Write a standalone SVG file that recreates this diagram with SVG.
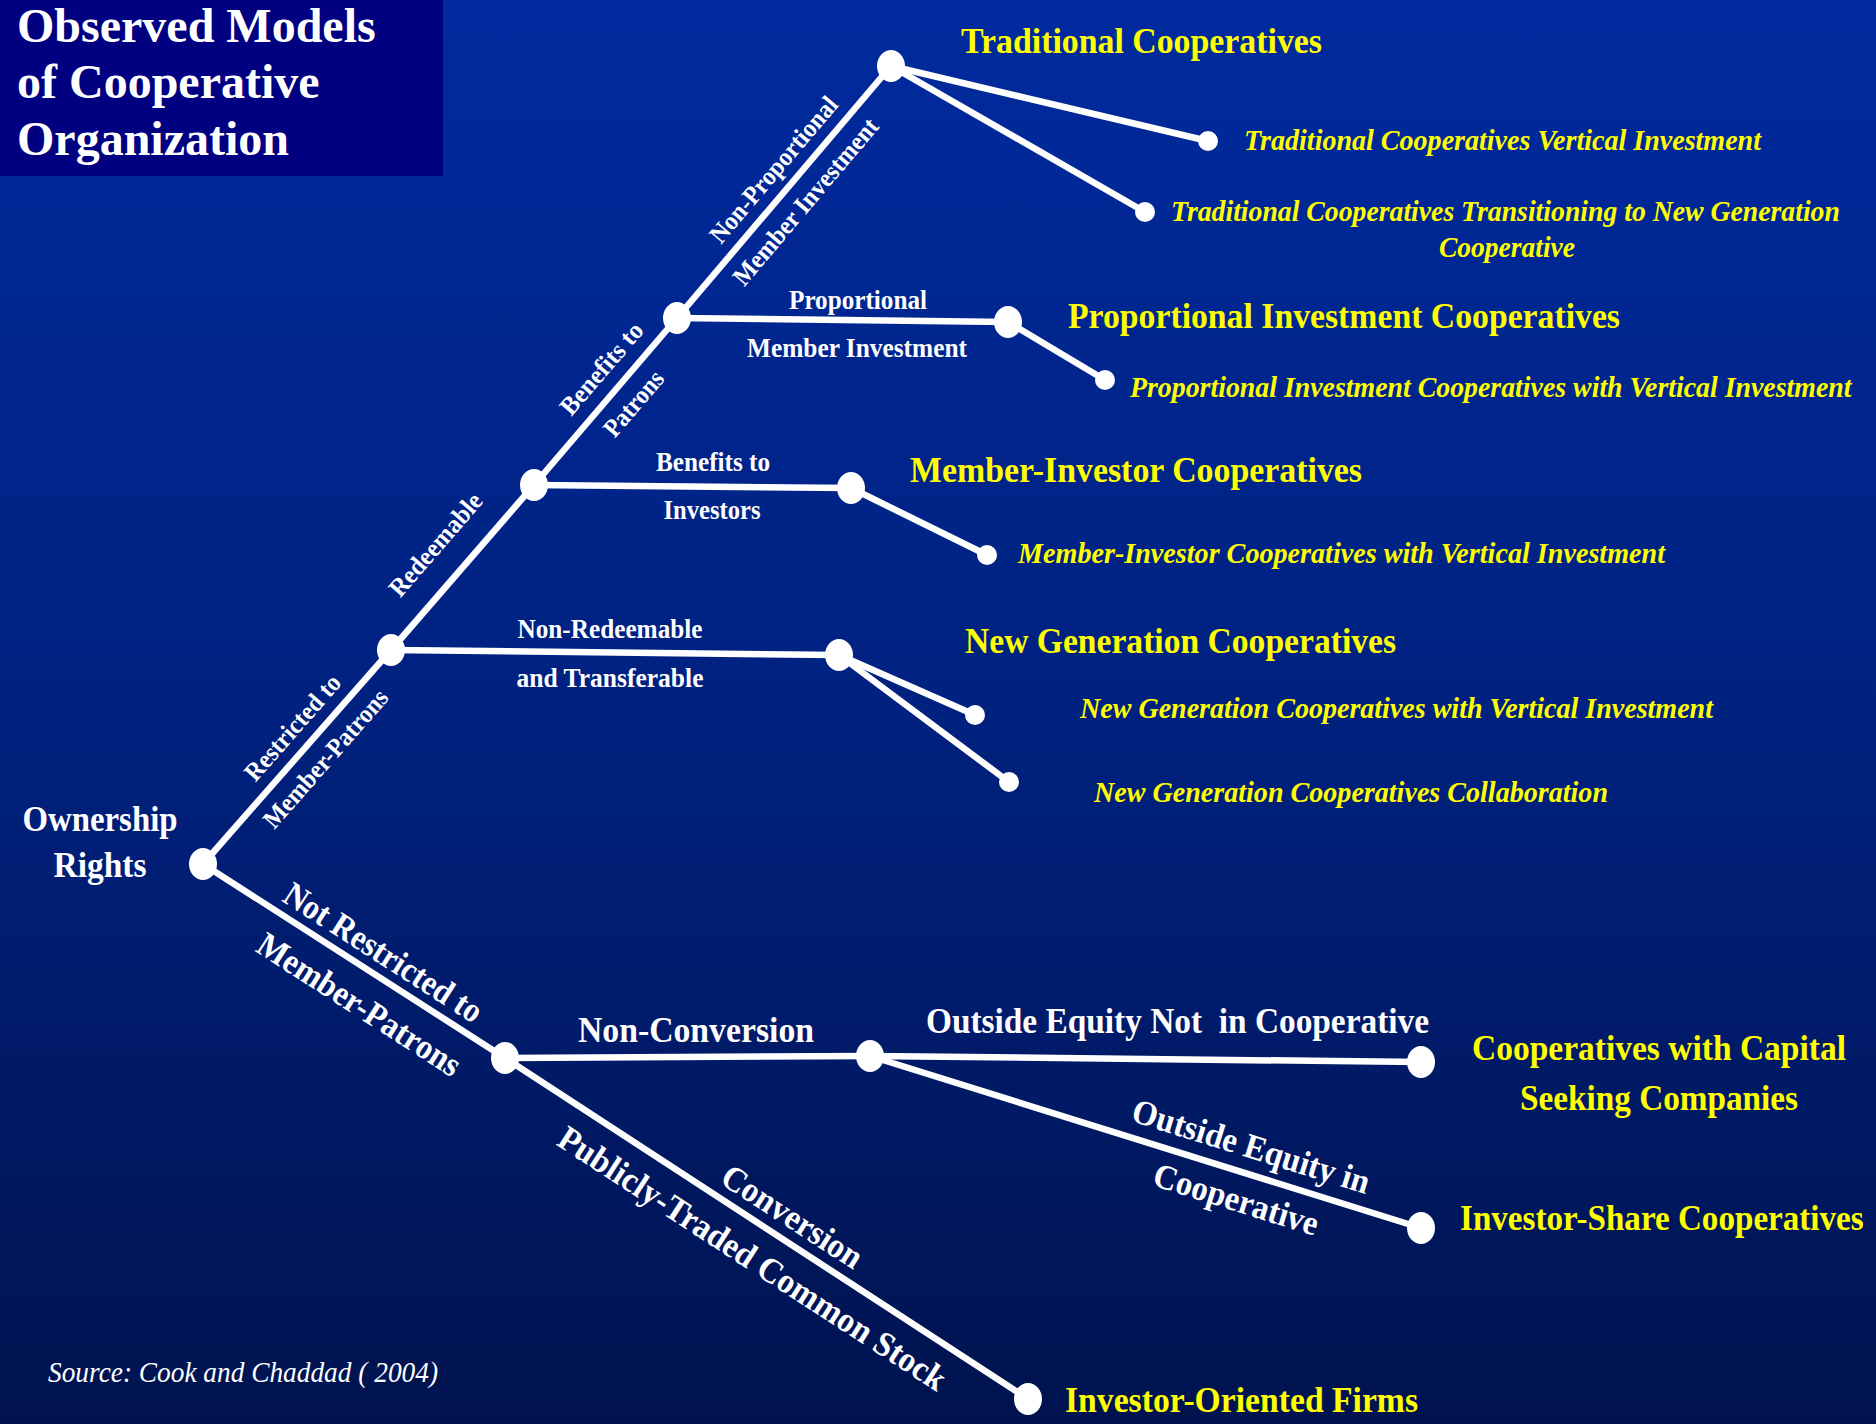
<svg xmlns="http://www.w3.org/2000/svg" width="1876" height="1424" viewBox="0 0 1876 1424">
  <defs>
    <linearGradient id="bg" x1="0" y1="0" x2="0" y2="1">
      <stop offset="0" stop-color="#002a9e"/>
      <stop offset="0.5" stop-color="#00217f"/>
      <stop offset="1" stop-color="#00134f"/>
    </linearGradient>
    <style>
      .ln { stroke:#ffffff; stroke-width:6.5; stroke-linecap:round; fill:none; }
      .nb { fill:#ffffff; }
      .t { font-family:"Liberation Serif","Times New Roman",serif; font-weight:bold; }
      .y { fill:#ffff00; font-size:36px; }
      .yi { fill:#ffff00; font-size:30px; font-style:italic; }
      .w { fill:#ffffff; }
      .s27 { font-size:27px; }
      .s26 { font-size:26px; }
      .s35 { font-size:35px; }
      .title { fill:#ffffff; font-size:48px; }
      .src { fill:#ffffff; font-size:30px; font-style:italic; font-weight:normal; }
    </style>
  </defs>

  <rect x="0" y="0" width="1876" height="1424" fill="url(#bg)"/>

  <g id="title">
    <rect x="0" y="0" width="443" height="176" fill="#000080"/>
    <text class="t title" x="17" y="42">Observed Models</text>
    <text class="t title" x="17" y="98">of Cooperative</text>
    <text class="t title" x="17" y="155">Organization</text>
  </g>

  <g id="connectors">
    <line class="ln" x1="203" y1="864" x2="391" y2="650"/>
    <line class="ln" x1="391" y1="650" x2="534" y2="485"/>
    <line class="ln" x1="534" y1="485" x2="677" y2="318"/>
    <line class="ln" x1="677" y1="318" x2="891" y2="66"/>
    <line class="ln" x1="891" y1="66" x2="1208" y2="141"/>
    <line class="ln" x1="891" y1="66" x2="1145" y2="212"/>
    <line class="ln" x1="677" y1="318" x2="1008" y2="322"/>
    <line class="ln" x1="1008" y1="322" x2="1105" y2="380"/>
    <line class="ln" x1="534" y1="485" x2="851" y2="488"/>
    <line class="ln" x1="851" y1="488" x2="987" y2="555"/>
    <line class="ln" x1="391" y1="650" x2="839" y2="655"/>
    <line class="ln" x1="839" y1="655" x2="975" y2="715"/>
    <line class="ln" x1="839" y1="655" x2="1009" y2="782"/>
    <line class="ln" x1="203" y1="864" x2="505" y2="1058"/>
    <line class="ln" x1="505" y1="1058" x2="870" y2="1056"/>
    <line class="ln" x1="870" y1="1056" x2="1421" y2="1062"/>
    <line class="ln" x1="870" y1="1056" x2="1421" y2="1228"/>
    <line class="ln" x1="505" y1="1058" x2="1028" y2="1399"/>
  </g>

  <g id="edge-labels" class="t w">
    <text class="s26" transform="translate(774,170) rotate(-49.7)" y="8" text-anchor="middle" textLength="183" lengthAdjust="spacingAndGlyphs">Non-Proportional</text>
    <text class="s26" transform="translate(806,202) rotate(-49.7)" y="8" text-anchor="middle" textLength="210" lengthAdjust="spacingAndGlyphs">Member Investment</text>
    <text class="s26" transform="translate(602,369) rotate(-49.4)" y="8" text-anchor="middle" textLength="113" lengthAdjust="spacingAndGlyphs">Benefits to</text>
    <text class="s26" transform="translate(634,404) rotate(-49.4)" y="8" text-anchor="middle" textLength="78" lengthAdjust="spacingAndGlyphs">Patrons</text>
    <text class="s26" transform="translate(436,545) rotate(-49.1)" y="8" text-anchor="middle" textLength="128" lengthAdjust="spacingAndGlyphs">Redeemable</text>
    <text class="s26" transform="translate(293,728) rotate(-48.7)" y="8" text-anchor="middle" textLength="132" lengthAdjust="spacingAndGlyphs">Restricted to</text>
    <text class="s26" transform="translate(326,759) rotate(-48.7)" y="8" text-anchor="middle" textLength="175" lengthAdjust="spacingAndGlyphs">Member-Patrons</text>

    <text class="s27" x="858" y="309" text-anchor="middle" textLength="138" lengthAdjust="spacingAndGlyphs">Proportional</text>
    <text class="s27" x="857" y="357" text-anchor="middle" textLength="220" lengthAdjust="spacingAndGlyphs">Member Investment</text>
    <text class="s27" x="713" y="471" text-anchor="middle" textLength="114" lengthAdjust="spacingAndGlyphs">Benefits to</text>
    <text class="s27" x="712" y="519" text-anchor="middle" textLength="97" lengthAdjust="spacingAndGlyphs">Investors</text>
    <text class="s27" x="610" y="638" text-anchor="middle" textLength="185" lengthAdjust="spacingAndGlyphs">Non-Redeemable</text>
    <text class="s27" x="610" y="687" text-anchor="middle" textLength="187" lengthAdjust="spacingAndGlyphs">and Transferable</text>

    <text class="s35" transform="translate(383,953) rotate(32.7)" y="11" text-anchor="middle" textLength="229" lengthAdjust="spacingAndGlyphs">Not Restricted to</text>
    <text class="s35" transform="translate(359,1005) rotate(32.7)" y="11" text-anchor="middle" textLength="235" lengthAdjust="spacingAndGlyphs">Member-Patrons</text>
    <text class="s35" x="578" y="1042" textLength="236" lengthAdjust="spacingAndGlyphs">Non-Conversion</text>
    <text class="s35" x="926" y="1033" textLength="503" lengthAdjust="spacingAndGlyphs" xml:space="preserve" style="white-space:pre">Outside Equity Not  in Cooperative</text>
    <text class="s35" transform="translate(1251,1147) rotate(17.3)" y="11" text-anchor="middle" textLength="247" lengthAdjust="spacingAndGlyphs">Outside Equity in</text>
    <text class="s35" transform="translate(1236,1200) rotate(17.3)" y="11" text-anchor="middle" textLength="171" lengthAdjust="spacingAndGlyphs">Cooperative</text>
    <text class="s35" transform="translate(792,1217) rotate(33)" y="11" text-anchor="middle" textLength="161" lengthAdjust="spacingAndGlyphs">Conversion</text>
    <text class="s35" transform="translate(752,1259) rotate(33)" y="11" text-anchor="middle" textLength="455" lengthAdjust="spacingAndGlyphs">Publicly-Traded Common Stock</text>
  </g>

  <g id="node-ownership">
    <ellipse class="nb" cx="203" cy="864" rx="14" ry="16"/>
    <text class="t w s35" x="100" y="831" text-anchor="middle" textLength="155" lengthAdjust="spacingAndGlyphs">Ownership</text>
    <text class="t w s35" x="100" y="877" text-anchor="middle" textLength="93" lengthAdjust="spacingAndGlyphs">Rights</text>
  </g>
  <g id="node-restricted"><ellipse class="nb" cx="391" cy="650" rx="14" ry="16"/></g>
  <g id="node-redeemable"><ellipse class="nb" cx="534" cy="485" rx="14" ry="16"/></g>
  <g id="node-benefits-patrons"><ellipse class="nb" cx="677" cy="318" rx="14" ry="16"/></g>

  <g id="node-traditional">
    <ellipse class="nb" cx="891" cy="66" rx="14" ry="16"/>
    <text class="t y" x="961" y="53" textLength="361" lengthAdjust="spacingAndGlyphs">Traditional Cooperatives</text>
  </g>
  <g id="node-traditional-vertical">
    <circle class="nb" cx="1208" cy="141" r="10"/>
    <text class="t yi" x="1244" y="150" textLength="517" lengthAdjust="spacingAndGlyphs">Traditional Cooperatives Vertical Investment</text>
  </g>
  <g id="node-traditional-transitioning">
    <circle class="nb" cx="1145" cy="212" r="10"/>
    <text class="t yi" transform="translate(1171,221) scale(0.925,1)">Traditional Cooperatives Transitioning to New Generation</text>
    <text class="t yi" x="1507" y="257" text-anchor="middle" textLength="136" lengthAdjust="spacingAndGlyphs">Cooperative</text>
  </g>

  <g id="node-proportional">
    <ellipse class="nb" cx="1008" cy="322" rx="14" ry="16"/>
    <text class="t y" x="1068" y="328" textLength="552" lengthAdjust="spacingAndGlyphs">Proportional Investment Cooperatives</text>
  </g>
  <g id="node-proportional-vertical">
    <circle class="nb" cx="1105" cy="380" r="10"/>
    <text class="t yi" transform="translate(1130,397) scale(0.928,1)">Proportional Investment Cooperatives with Vertical Investment</text>
  </g>

  <g id="node-member-investor">
    <ellipse class="nb" cx="851" cy="488" rx="14" ry="16"/>
    <text class="t y" x="910" y="482" textLength="452" lengthAdjust="spacingAndGlyphs">Member-Investor Cooperatives</text>
  </g>
  <g id="node-member-investor-vertical">
    <circle class="nb" cx="987" cy="555" r="10"/>
    <text class="t yi" x="1018" y="563" textLength="647" lengthAdjust="spacingAndGlyphs">Member-Investor Cooperatives with Vertical Investment</text>
  </g>

  <g id="node-new-generation">
    <ellipse class="nb" cx="839" cy="655" rx="14" ry="16"/>
    <text class="t y" x="965" y="653" textLength="431" lengthAdjust="spacingAndGlyphs">New Generation Cooperatives</text>
  </g>
  <g id="node-new-generation-vertical">
    <circle class="nb" cx="975" cy="715" r="10"/>
    <text class="t yi" x="1080" y="718" textLength="633" lengthAdjust="spacingAndGlyphs">New Generation Cooperatives with Vertical Investment</text>
  </g>
  <g id="node-new-generation-collab">
    <circle class="nb" cx="1009" cy="782" r="10"/>
    <text class="t yi" x="1094" y="802" textLength="514" lengthAdjust="spacingAndGlyphs">New Generation Cooperatives Collaboration</text>
  </g>

  <g id="node-not-restricted"><ellipse class="nb" cx="505" cy="1058" rx="14" ry="16"/></g>
  <g id="node-non-conversion"><ellipse class="nb" cx="870" cy="1056" rx="14" ry="16"/></g>

  <g id="node-capital-seeking">
    <ellipse class="nb" cx="1421" cy="1062" rx="14" ry="16"/>
    <text class="t y" x="1659" y="1060" text-anchor="middle" textLength="374" lengthAdjust="spacingAndGlyphs">Cooperatives with Capital</text>
    <text class="t y" x="1659" y="1110" text-anchor="middle" textLength="278" lengthAdjust="spacingAndGlyphs">Seeking Companies</text>
  </g>
  <g id="node-investor-share">
    <ellipse class="nb" cx="1421" cy="1228" rx="14" ry="16"/>
    <text class="t y" transform="translate(1460,1230) scale(0.92,1)">Investor-Share Cooperatives</text>
  </g>
  <g id="node-investor-oriented">
    <ellipse class="nb" cx="1028" cy="1399" rx="14" ry="16"/>
    <text class="t y" x="1065" y="1412" textLength="353" lengthAdjust="spacingAndGlyphs">Investor-Oriented Firms</text>
  </g>

  <g id="source">
    <text class="t src" x="48" y="1382" textLength="390" lengthAdjust="spacingAndGlyphs">Source: Cook and Chaddad ( 2004)</text>
  </g>
</svg>
